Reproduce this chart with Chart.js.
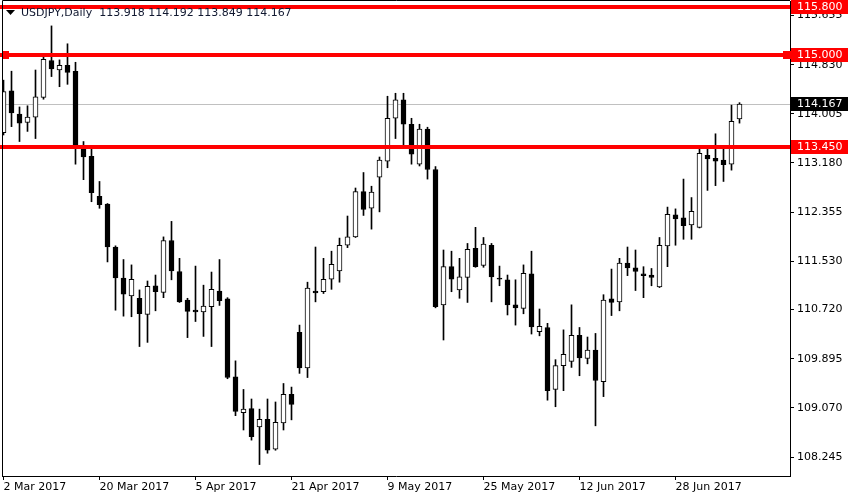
<!DOCTYPE html>
<html lang="en">
<head>
<meta charset="UTF-8">
<title>USDJPY Daily</title>
<script src="https://cdn.jsdelivr.net/npm/chart.js"></script>
<style>
  html, body { margin: 0; padding: 0; background: #fff; overflow: hidden; }
</style>
</head>
<body>
<canvas id="usdjpy" width="850" height="500"></canvas>
<script>
// daily candles, 2 Mar 2017 .. 10 Jul 2017 (one per weekday)
const opens = [
  113.69, 114.39, 114.00, 113.86, 113.95, 114.28, 114.90, 114.74, 114.82, 114.72,
  113.43, 113.29, 112.62, 112.49, 111.77, 111.25, 110.95, 110.91, 110.64, 111.12,
  111.01, 111.88, 111.36, 110.88, 110.71, 110.68, 110.77, 111.03, 110.90, 109.59,
  108.99, 109.06, 108.75, 108.88, 108.38, 108.82, 109.30, 110.34, 109.74, 111.03,
  111.02, 111.23, 111.37, 111.80, 111.94, 112.70, 112.42, 112.94, 113.21, 113.93,
  114.24, 113.83, 113.16, 113.75, 113.07, 110.80, 111.44, 111.05, 111.26, 111.75,
  111.46, 111.80, 111.25, 111.22, 110.80, 110.74, 111.32, 110.35, 110.42, 109.38,
  109.78, 109.85, 110.29, 109.90, 110.04, 109.51, 110.90, 110.85, 111.50, 111.42,
  111.32, 111.30, 111.10, 111.79, 112.31, 112.26, 112.14, 112.10, 113.31, 113.26,
  113.23, 113.16, 113.918
];
const highs = [
  114.57, 114.72, 114.12, 114.14, 114.74, 114.96, 115.48, 114.91, 115.18, 114.87,
  113.54, 113.42, 112.87, 112.50, 111.79, 111.56, 111.47, 111.05, 111.20, 111.30,
  111.94, 112.20, 111.58, 110.91, 111.45, 111.13, 111.35, 111.56, 110.92, 109.86,
  109.38, 109.22, 109.05, 109.22, 109.17, 109.48, 109.42, 110.46, 111.18, 111.77,
  111.58, 111.70, 111.92, 112.29, 112.76, 113.02, 112.79, 113.28, 114.30, 114.35,
  114.35, 113.93, 113.83, 113.78, 113.12, 111.72, 111.70, 111.58, 111.83, 112.10,
  111.93, 111.83, 111.45, 111.30, 111.22, 111.47, 111.70, 110.73, 110.49, 109.88,
  110.38, 110.80, 110.42, 110.26, 110.32, 110.97, 111.40, 111.58, 111.77, 111.72,
  111.44, 111.41, 111.93, 112.44, 112.41, 112.91, 112.60, 113.41, 113.41, 113.67,
  113.41, 114.15, 114.192
];
const lows = [
  113.65, 113.79, 113.54, 113.71, 113.59, 114.25, 114.63, 114.46, 114.50, 113.16,
  112.90, 112.53, 112.42, 111.52, 110.71, 110.61, 110.60, 110.10, 110.17, 110.70,
  110.92, 111.22, 110.84, 110.25, 110.52, 110.27, 110.10, 110.79, 109.56, 108.94,
  108.70, 108.53, 108.12, 108.31, 108.36, 108.70, 108.87, 109.65, 109.58, 110.85,
  110.99, 111.06, 111.18, 111.76, 111.93, 112.30, 112.07, 112.36, 113.10, 113.59,
  113.48, 113.16, 113.13, 112.91, 110.75, 110.21, 111.02, 110.91, 110.84, 111.43,
  111.43, 110.85, 111.12, 110.63, 110.46, 110.65, 110.31, 110.28, 109.20, 109.09,
  109.36, 109.75, 109.61, 109.81, 108.77, 109.26, 110.62, 110.70, 111.29, 111.04,
  110.92, 111.12, 111.09, 111.44, 111.80, 111.90, 111.90, 112.09, 112.72, 112.80,
  112.87, 113.06, 113.849
];
const closes = [
  114.38, 114.02, 113.85, 113.95, 114.29, 114.92, 114.76, 114.82, 114.70, 113.45,
  113.28, 112.68, 112.48, 111.77, 111.25, 110.98, 111.23, 110.65, 111.11, 111.02,
  111.88, 111.37, 110.85, 110.69, 110.68, 110.78, 111.06, 110.87, 109.58, 109.01,
  109.05, 108.59, 108.88, 108.36, 108.83, 109.30, 109.13, 109.74, 111.08, 111.00,
  111.23, 111.48, 111.80, 111.94, 112.70, 112.40, 112.69, 113.23, 113.93, 114.24,
  113.83, 113.33, 113.75, 113.07, 110.77, 111.44, 111.23, 111.27, 111.73, 111.44,
  111.82, 111.27, 111.23, 110.80, 110.75, 111.33, 110.43, 110.44, 109.36, 109.78,
  109.97, 110.29, 109.91, 110.04, 109.53, 110.88, 110.84, 111.50, 111.42, 111.36,
  111.29, 111.26, 111.80, 112.32, 112.24, 112.13, 112.37, 113.34, 113.25, 113.21,
  113.15, 113.88, 114.167
];

const tickDays = [0, 12, 24, 36, 48, 60, 72, 84];
const tickLabels = ['2 Mar 2017', '20 Mar 2017', '5 Apr 2017', '21 Apr 2017',
  '9 May 2017', '25 May 2017', '12 Jun 2017', '28 Jun 2017'];
const priceTicks = [115.655, 114.830, 114.005, 113.180, 112.355, 111.530,
  110.720, 109.895, 109.070, 108.245];

const levels = [115.800, 115.000, 113.450];
const selectedLevel = 115.000;
const symbol = 'USDJPY,Daily';

const last = opens.length - 1;
const bid = closes[last];
const idx = opens.map((_, i) => i);

Chart.defaults.font.family = 'DejaVu Sans';
Chart.defaults.font.size = 11;
Chart.defaults.color = '#000';

function noPad(s) {
  s.paddingTop = 0; s.paddingBottom = 0; s.paddingLeft = 0; s.paddingRight = 0;
}

const overlay = {
  id: 'overlay',
  beforeDatasetsDraw(chart) {
    const { ctx, chartArea: a, scales: { y } } = chart;
    const py = Math.round(y.getPixelForValue(bid)) + 0.5;
    ctx.save();
    ctx.strokeStyle = '#c0c0c0';
    ctx.lineWidth = 1;
    ctx.beginPath();
    ctx.moveTo(a.left, py);
    ctx.lineTo(a.right, py);
    ctx.stroke();
    ctx.restore();
  },
  afterDatasetsDraw(chart) {
    const { ctx, chartArea: a, scales: { y } } = chart;
    ctx.save();
    ctx.fillStyle = '#ff0000';
    levels.forEach(v => {
      const py = Math.round(y.getPixelForValue(v));
      ctx.fillRect(0, py - 2, a.right, 4);
      if (v === selectedLevel) {
        ctx.fillRect(2, py - 4, 7, 8);
        ctx.fillRect(a.right - 7, py - 4, 8, 8);
      }
    });
    ctx.restore();
  },
  afterDraw(chart) {
    const { ctx, chartArea: a, scales: { y } } = chart;
    ctx.save();
    // frame top / left
    ctx.strokeStyle = '#000';
    ctx.lineWidth = 1;
    ctx.beginPath();
    ctx.moveTo(a.left + 0.5, a.bottom);
    ctx.lineTo(a.left + 0.5, a.top - 0.5);
    ctx.lineTo(a.right, a.top - 0.5);
    ctx.stroke();

    // price labels on the axis
    ctx.font = '11px "DejaVu Sans"';
    ctx.textBaseline = 'middle';
    ctx.textAlign = 'left';
    const tag = (v, bg) => {
      const py = Math.round(y.getPixelForValue(v));
      ctx.fillStyle = bg;
      ctx.fillRect(a.right + 1, py - 7, 57, 14);
      ctx.fillStyle = '#fff';
      ctx.fillText(v.toFixed(3), a.right + 7, py + 0.5);
    };
    levels.forEach(v => tag(v, '#ff0000'));
    tag(bid, '#000');

    // header
    ctx.fillStyle = '#000';
    ctx.beginPath();
    ctx.moveTo(6, 10);
    ctx.lineTo(15, 10);
    ctx.lineTo(10.5, 15);
    ctx.closePath();
    ctx.fill();
    const ohlc = [opens[last], highs[last], lows[last], closes[last]].map(v => v.toFixed(3)).join(' ');
    ctx.fillStyle = '#101830';
    ctx.fillText(symbol + '  ' + ohlc, 21, 13);
    ctx.restore();
  }
};

new Chart(document.getElementById('usdjpy'), {
  type: 'bar',
  data: {
    datasets: [
      {
        label: 'body',
        data: idx.map(i => ({ x: i, y: [opens[i], closes[i]] })),
        backgroundColor: idx.map(i => closes[i] >= opens[i] ? '#ffffff' : '#000000'),
        borderColor: '#000',
        borderWidth: 1,
        borderSkipped: false,
        barThickness: 5,
        grouped: false,
        order: 0
      },
      {
        label: 'wick',
        data: idx.map(i => ({ x: i, y: [lows[i], highs[i]] })),
        backgroundColor: '#000',
        borderWidth: 0,
        barThickness: 1,
        grouped: false,
        order: 1
      }
    ]
  },
  options: {
    responsive: false,
    animation: false,
    devicePixelRatio: 1,
    layout: { padding: { left: 2, top: 1, right: 0, bottom: 0 } },
    plugins: { legend: { display: false }, tooltip: { enabled: false } },
    scales: {
      x: {
        type: 'linear',
        min: -0.1875,
        max: 98.3125,
        offset: false,
        bounds: 'data',
        afterBuildTicks: s => { s.ticks = tickDays.map(v => ({ value: v })); },
        afterFit: s => { s.height = 24; noPad(s); },
        grid: { drawOnChartArea: false, offset: false, color: '#000', tickLength: 4 },
        border: { color: '#000' },
        ticks: {
          autoSkip: false, maxRotation: 0, align: 'start', padding: 1,
          callback: v => tickLabels[tickDays.indexOf(v)]
        }
      },
      y: {
        position: 'right',
        min: 107.928,
        max: 115.898,
        beginAtZero: false,
        bounds: 'data',
        afterBuildTicks: s => { s.ticks = priceTicks.map(v => ({ value: v })); },
        afterFit: s => { s.width = 60; noPad(s); },
        grid: { drawOnChartArea: false, color: '#000', tickLength: 4 },
        border: { color: '#000' },
        ticks: { autoSkip: false, padding: 3, callback: v => v.toFixed(3) }
      }
    }
  },
  plugins: [overlay]
});
</script>
</body>
</html>
